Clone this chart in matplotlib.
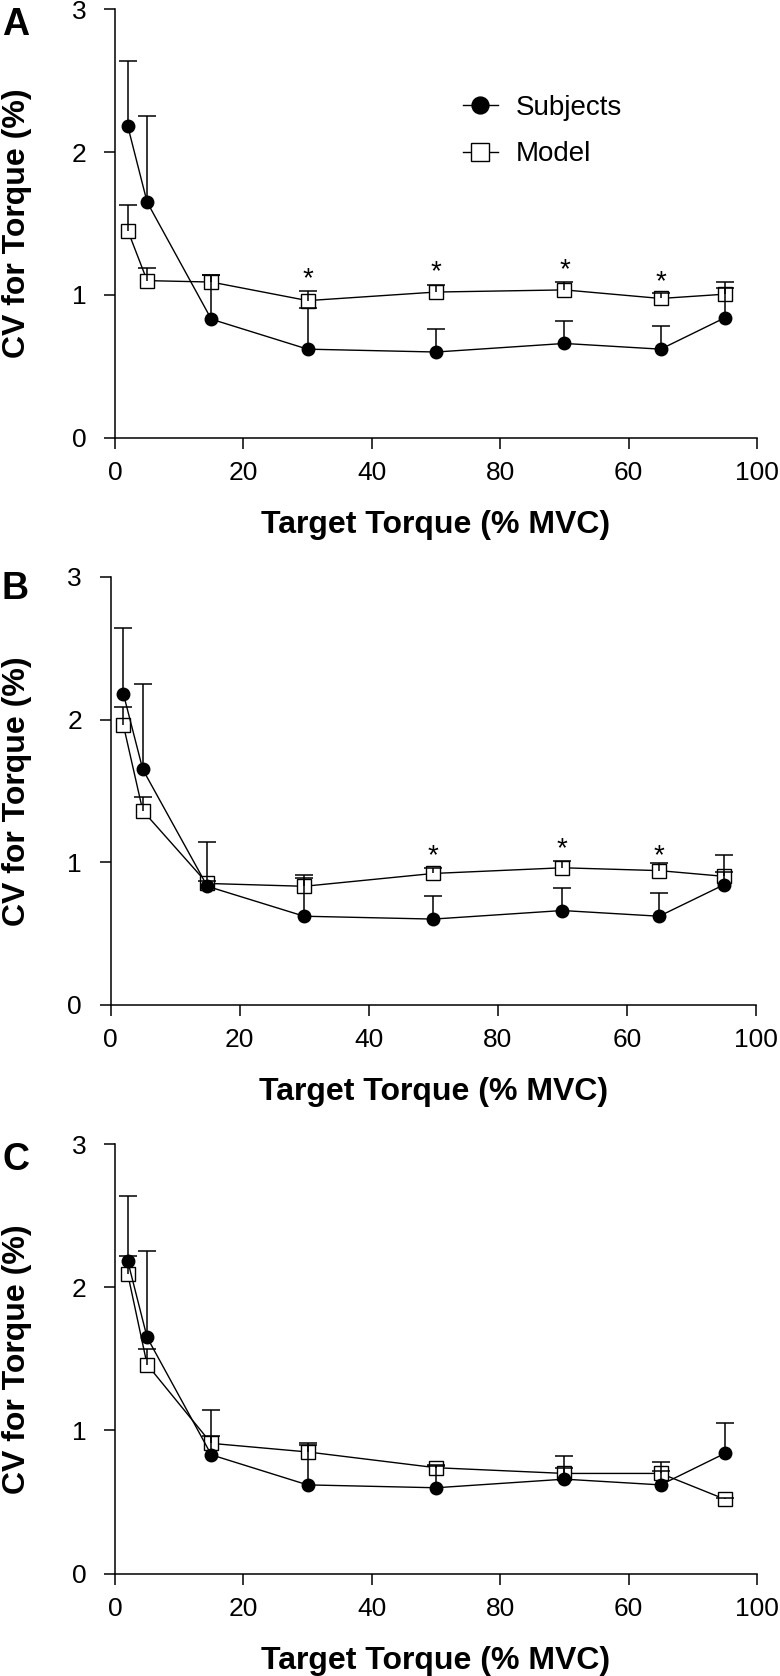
"""CV for torque: subjects vs model, three panels"""

import matplotlib
matplotlib.use('Agg')
import matplotlib.pyplot as plt
import numpy as np

plt.rcParams['font.family'] = ['Liberation Sans', 'DejaVu Sans']

# == data ==
target = [2, 5, 15, 30, 50, 70, 85, 95]      # where the points sit on the x axis
xtick_pos = [0, 20, 40, 60, 80, 100]
xtick_lab = ['0', '20', '40', '80', '60', '100']   # as printed in the original
ytick_pos = [0, 1, 2, 3]

subj_cv = [2.18, 1.65, 0.83, 0.62, 0.60, 0.66, 0.62, 0.84]
subj_sd = [0.46, 0.60, 0.31, 0.29, 0.16, 0.16, 0.16, 0.21]

model_a_cv = [1.45, 1.10, 1.09, 0.96, 1.02, 1.035, 0.975, 1.005]
model_a_sd = [0.18, 0.09, 0.05, 0.07, 0.05, 0.055, 0.035, 0.085]
model_b_cv = [1.96, 1.36, 0.85, 0.83, 0.92, 0.96, 0.94, 0.90]
model_b_sd = [0.13, 0.10, 0.02, 0.06, 0.04, 0.045, 0.05, 0.03]
model_c_cv = [2.09, 1.46, 0.91, 0.85, 0.74, 0.70, 0.70, 0.52]
model_c_sd = [0.13, 0.11, 0.05, 0.05, 0.01, 0.035, 0.02, 0.01]

# significance stars
stars_a_x = [30, 50, 70, 85]
stars_a_y = [1.17, 1.22, 1.23, 1.15]
stars_b_x = [50, 70, 85]
stars_b_y = [1.10, 1.15, 1.10]

W, H = 780, 1676

# == functions ==

# upper-only error bars with flat caps
def up_errors(ax, x, y, sd):
    y = np.asarray(y)
    sd = np.asarray(sd)
    ax.errorbar(x, y, yerr=[np.zeros_like(sd), sd], fmt='none', ecolor='black',
                elinewidth=1.1, capsize=0, zorder=5)
    ax.plot(x, y + sd, ls='none', marker='_', ms=13, mew=1.1, color='black', zorder=5)


def draw_panel(ax, rect_px, model_cv, model_sd, star_x, star_y, letter, letter_base, legend=False):
    m_line, = ax.plot(target, model_cv, color='black', lw=1, marker='s', ms=9.5,
                      mfc='white', mec='black', mew=1, zorder=3, label='Model')
    s_line, = ax.plot(target, subj_cv, color='black', lw=1, marker='o', ms=9,
                      mfc='black', mec='black', zorder=4, label='Subjects')
    up_errors(ax, target, model_cv, model_sd)
    up_errors(ax, target, subj_cv, subj_sd)

    for sx, sy in zip(star_x, star_y):
        ax.annotate('*', (sx, sy), xytext=(0, -6), textcoords='offset points',
                    ha='center', va='center', fontsize=20)

    ax.set_xlim(0, 100)
    ax.set_ylim(0, 3)
    ax.set_xticks(xtick_pos)
    ax.set_xticklabels(xtick_lab)
    ax.set_yticks(ytick_pos)
    ax.spines['top'].set_visible(False)
    ax.spines['right'].set_visible(False)
    for s in ['left', 'bottom']:
        ax.spines[s].set_linewidth(1.1)
    ax.tick_params(direction='out', length=8, width=1.1, labelsize=19)
    ax.tick_params(axis='x', pad=8.5)
    ax.tick_params(axis='y', pad=12.5)

    ax.set_xlabel('Target Torque (% MVC)', fontsize=23, fontweight='bold')
    ax.xaxis.set_label_coords(0.5, -0.222)
    ax.xaxis.label.set_verticalalignment('baseline')

    left, top, right, bottom = rect_px
    ax.set_ylabel('CV for Torque (%)', fontsize=23, fontweight='bold')
    ax.yaxis.set_label_coords(32 / W, 1 - (top + bottom) / 2 / H, transform=fig.transFigure)

    fig.text(2 / W, 1 - letter_base / H, letter, fontsize=27, fontweight='bold',
             ha='left', va='baseline')

    if legend:
        ax.legend(handles=[s_line, m_line], loc='center left', bbox_to_anchor=(0.542, 0.716),
                  frameon=False, fontsize=20, handlelength=1.25, handletextpad=0.65,
                  labelspacing=0.75, borderpad=0, borderaxespad=0, markerscale=1.35)


# == main ==
fig = plt.figure(figsize=(W / 100, H / 100), dpi=100)
fig.patch.set_facecolor('white')

# axes boxes in pixels: left, top, right, bottom
rects = [(115, 9.3, 757, 437.7), (110.5, 577, 756, 1004.6), (115, 1144, 757, 1573.7)]
models = [(model_a_cv, model_a_sd), (model_b_cv, model_b_sd), (model_c_cv, model_c_sd)]
stars = [(stars_a_x, stars_a_y), (stars_b_x, stars_b_y), ([], [])]
letters = ['A', 'B', 'C']
letter_bases = [35, 599, 1170]

for i, r in enumerate(rects):
    l, t, rr, b = r
    ax = fig.add_axes([l / W, 1 - b / H, (rr - l) / W, (b - t) / H])
    draw_panel(ax, r, models[i][0], models[i][1], stars[i][0], stars[i][1],
               letters[i], letter_bases[i], legend=(i == 0))

fig.savefig('out.png', dpi=100)
